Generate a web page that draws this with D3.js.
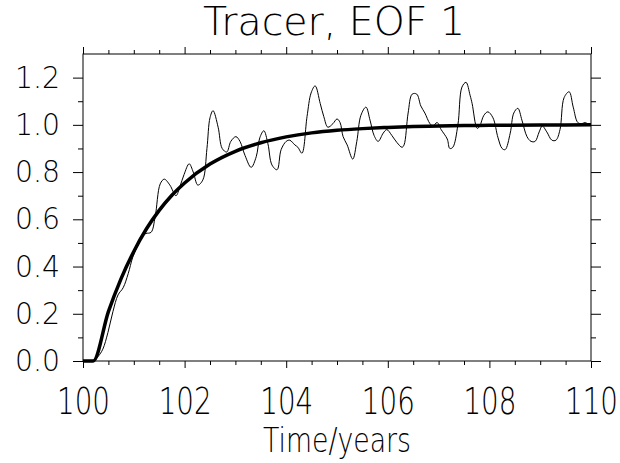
<!DOCTYPE html>
<html>
<head>
<meta charset="utf-8">
<script src="https://cdn.jsdelivr.net/npm/d3@7"></script>
<style>
  body { margin: 0; background: #fff; }
  svg { display: block; }
  text { font-family: "DejaVu Sans", sans-serif; font-weight: 200; fill: #000; }
</style>
</head>
<body>
<svg id="chart" width="620" height="463"></svg>
<script>
// tracer response, EOF 1
const noisyTime = [100.0, 100.2, 100.3, 100.39, 100.49, 100.59, 100.69, 100.79, 100.89, 100.98,
  101.08, 101.16, 101.24, 101.34, 101.42, 101.52, 101.6, 101.71, 101.83, 101.91,
  101.99, 102.09, 102.17, 102.26, 102.36, 102.44, 102.5, 102.56, 102.66, 102.74,
  102.83, 102.91, 103.01, 103.09, 103.19, 103.31, 103.41, 103.48, 103.56, 103.64,
  103.72, 103.82, 103.9, 104.0, 104.07, 104.17, 104.23, 104.31, 104.41, 104.49,
  104.57, 104.67, 104.74, 104.82, 104.92, 105.0, 105.06, 105.12, 105.2, 105.31,
  105.39, 105.47, 105.57, 105.65, 105.73, 105.81, 105.91, 105.98, 106.08, 106.18,
  106.28, 106.32, 106.4, 106.48, 106.57, 106.65, 106.73, 106.83, 106.89, 106.97,
  107.05, 107.17, 107.22, 107.28, 107.38, 107.46, 107.54, 107.62, 107.66, 107.76,
  107.81, 107.89, 107.97, 108.07, 108.17, 108.25, 108.31, 108.41, 108.48, 108.56,
  108.64, 108.74, 108.82, 108.9, 108.98, 109.04, 109.13, 109.23, 109.31, 109.39,
  109.47, 109.57, 109.65, 109.74, 109.82, 109.88, 109.93];
const noisyValue = [0, 0, 0.02, 0.05, 0.12, 0.21, 0.28, 0.31, 0.37, 0.44,
  0.49, 0.53, 0.54, 0.545, 0.61, 0.75, 0.77, 0.745, 0.70, 0.74,
  0.79, 0.835, 0.80, 0.745, 0.767, 0.90, 1.03, 1.06, 0.99, 0.90,
  0.885, 0.93, 0.95, 0.93, 0.87, 0.82, 0.865, 0.945, 0.975, 0.92,
  0.83, 0.81, 0.895, 0.93, 0.935, 0.915, 0.905, 0.88, 1.035, 1.135,
  1.165, 1.09, 1.035, 0.99, 1.005, 1.025, 1.01, 0.95, 0.915, 0.855,
  0.93, 1.04, 1.075, 1.02, 0.955, 0.93, 0.965, 0.98, 0.955, 0.925,
  0.905, 0.915, 1.05, 1.13, 1.13, 1.08, 1.05, 1.005, 0.995, 1.01,
  0.98, 0.94, 0.90, 0.905, 1.0, 1.16, 1.18, 1.125, 1.09, 0.985,
  0.995, 1.04, 1.055, 1.03, 0.945, 0.90, 0.895, 0.965, 1.05, 1.07,
  1.02, 0.95, 0.93, 0.93, 0.97, 0.995, 0.97, 0.935, 0.935, 0.98,
  1.115, 1.14, 1.075, 1.01, 1.005, 1.01, 1.005];

const smoothTime = [100.0, 100.2, 100.5, 100.75, 101.0, 101.25, 101.5, 101.75, 102.0, 102.5,
  103.0, 103.5, 104.0, 104.5, 105.0, 105.5, 106.0, 106.5, 107.0, 107.5, 108.0, 109.0, 110.0];
const smoothValue = [0, 0, 0.209, 0.349, 0.464, 0.560, 0.638, 0.702, 0.754, 0.834,
  0.888, 0.924, 0.949, 0.966, 0.977, 0.984, 0.989, 0.993, 0.995, 0.997, 0.998, 0.999, 1.0];

const yMajor = [0, 0.2, 0.4, 0.6, 0.8, 1.0, 1.2];
const yMinor = [0.1, 0.3, 0.5, 0.7, 0.9, 1.1];
const xMajor = [100, 102, 104, 106, 108, 110];
const xMinor = [100.5, 101, 101.5, 102.5, 103, 103.5, 104.5, 105, 105.5,
  106.5, 107, 107.5, 108.5, 109, 109.5];

const svg = d3.select('#chart');
const x = d3.scaleLinear().domain([100, 110]).range([83, 591]);
const y = d3.scaleLinear().domain([0, 1.3]).range([361, 54]);

function axisStyle(g) {
  g.select('.domain').remove();
  g.selectAll('line').attr('stroke', '#000').attr('stroke-width', 1);
}

// left
svg.append('g').attr('transform', 'translate(83,0)')
  .call(d3.axisLeft(y).tickValues(yMajor).tickSize(10).tickPadding(13).tickFormat(d3.format('.1f')))
  .call(axisStyle)
  .call(g => g.selectAll('text').attr('font-size', 30).attr('font-family', null)
    .attr('textLength', 45).attr('lengthAdjust', 'spacingAndGlyphs'));
svg.append('g').attr('transform', 'translate(83,0)')
  .call(d3.axisLeft(y).tickValues(yMinor).tickSize(5).tickFormat(''))
  .call(axisStyle);
// right
svg.append('g').attr('transform', 'translate(591,0)')
  .call(d3.axisRight(y).tickValues(yMajor).tickSize(10).tickFormat(''))
  .call(axisStyle);
svg.append('g').attr('transform', 'translate(591,0)')
  .call(d3.axisRight(y).tickValues(yMinor).tickSize(5).tickFormat(''))
  .call(axisStyle);
// bottom
svg.append('g').attr('transform', 'translate(0,361)')
  .call(d3.axisBottom(x).tickValues(xMajor).tickSize(7).tickPadding(20).tickFormat(d3.format('d')))
  .call(axisStyle)
  .call(g => g.selectAll('text').attr('font-size', 37).attr('font-family', null)
    .attr('transform', 'scale(0.75,1)'));
svg.append('g').attr('transform', 'translate(0,361)')
  .call(d3.axisBottom(x).tickValues(xMinor).tickSize(4).tickFormat(''))
  .call(axisStyle);
// top
svg.append('g').attr('transform', 'translate(0,54)')
  .call(d3.axisTop(x).tickValues(xMajor).tickSize(7).tickFormat(''))
  .call(axisStyle);
svg.append('g').attr('transform', 'translate(0,54)')
  .call(d3.axisTop(x).tickValues(xMinor).tickSize(4).tickFormat(''))
  .call(axisStyle);

svg.append('rect')
  .attr('x', 83).attr('y', 54).attr('width', 591 - 83).attr('height', 361 - 54)
  .attr('fill', 'none').attr('stroke', '#000').attr('stroke-width', 1);

const thin = d3.line().x(d => x(d[0])).y(d => y(d[1])).curve(d3.curveCatmullRom.alpha(0.5));
const thick = d3.line().x(d => x(d[0])).y(d => y(d[1])).curve(d3.curveMonotoneX);

svg.append('path')
  .datum(d3.zip(noisyTime, noisyValue))
  .attr('d', thin)
  .attr('fill', 'none').attr('stroke', '#000').attr('stroke-width', 1);

svg.append('path')
  .datum(d3.zip(smoothTime, smoothValue))
  .attr('d', thick)
  .attr('fill', 'none').attr('stroke', '#000').attr('stroke-width', 3.5);

svg.append('text')
  .attr('x', 334).attr('y', 35).attr('text-anchor', 'middle')
  .attr('font-size', 39)
  .attr('textLength', 262).attr('lengthAdjust', 'spacingAndGlyphs')
  .text('Tracer, EOF 1');

svg.append('text')
  .attr('x', 337).attr('y', 452).attr('text-anchor', 'middle')
  .attr('font-size', 33)
  .attr('textLength', 148).attr('lengthAdjust', 'spacingAndGlyphs')
  .text('Time/years');
</script>
</body>
</html>
